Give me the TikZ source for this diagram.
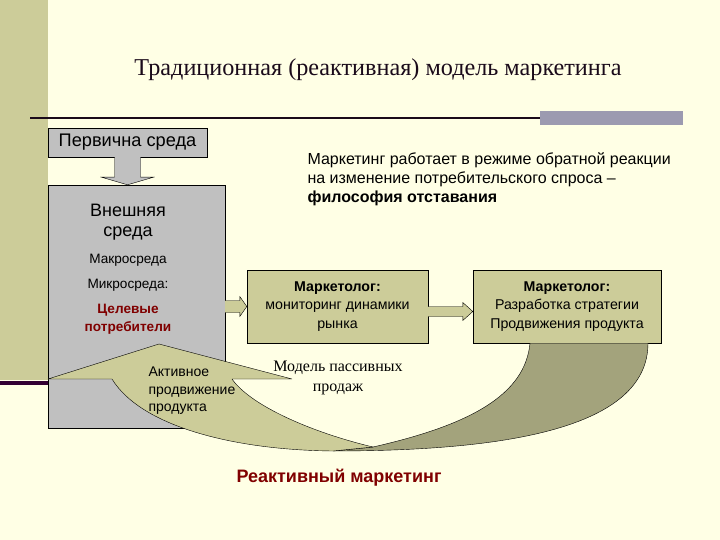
\documentclass[tikz,border=0pt]{standalone}
\usepackage{fontspec}
\setmainfont{Liberation Serif}
\setsansfont{Liberation Sans}
\usetikzlibrary{calc}
\usetikzlibrary{positioning}
\definecolor{slide yellow}{RGB}{255,255,229}
\definecolor{slide olive}{RGB}{204,204,153}
\definecolor{dark olive}{RGB}{163,163,124}
\definecolor{slide gray}{RGB}{192,192,192}
\definecolor{slide red}{RGB}{128,0,0}
\definecolor{slide bar}{RGB}{156,154,176}
\definecolor{slide plum}{RGB}{51,0,51}
\definecolor{title ink}{RGB}{26,10,26}

\begin{document}
\begin{tikzpicture}[x=1pt, y=-1pt,
		env box/.style={draw, fill=slide gray, inner sep=0pt},
		role box/.style={draw, fill=slide olive, minimum height=73pt, align=center, font=\sffamily\fontsize{14.2}{18.5}\selectfont},
		block arrow/.style={draw, fill=slide olive},
		env label/.style={align=center, font=\sffamily\fontsize{13.6}{18}\selectfont},
		band/.style={draw, line join=round},
	]
	\useasboundingbox (0,0) rectangle (720,540);
	\fill[slide yellow] (0,0) rectangle (720,540);
	\fill[slide olive] (0,0) rectangle (48,380);
	\draw[slide plum, line width=4pt] (0,383) -- (48,383);
	\draw[title ink, line width=2pt] (30,118) -- (540,118);
	\fill[slide bar] (540,111) rectangle (683,125);

	\node[title ink, font=\fontsize{24.2}{29}\selectfont] (title) at (378,70) {Традиционная (реактивная) модель маркетинга};

	\node[env box, minimum width=159pt, minimum height=29pt, font=\sffamily\fontsize{18.2}{21}\selectfont] (perv) at (127.5,142.5) {Первична среда};
	\node[env box, minimum width=177pt, minimum height=243pt] (ext) at (136.5,306.5) {};
	\draw[fill=slide gray] ($(perv.south)+(-13,0)$) -- ++(0,20) -- ++(-13,0) -- (perv.south |- ext.north) -- ($(perv.south)+(26,20)$) -- ++(-13,0) -- ($(perv.south)+(13,0)$);

	\node[env label, font=\sffamily\fontsize{18}{20}\selectfont] (extname) at (128,222) {Внешняя\\среда};
	\node[env label] (macro) at (128,260) {Макросреда};
	\node[env label] (micro) at (128,285) {Микросреда:};
	\node[env label, text=slide red, font=\sffamily\bfseries\fontsize{13.6}{18}\selectfont] (target) at (128,319) {Целевые\\потребители};

	\node[role box, minimum width=181pt] (mon) at (337.5,306.5) {\textbf{Маркетолог:}\\мониторинг динамики\\рынка};
	\node[role box, minimum width=188pt] (strat) at (567,306.5) {\textbf{Маркетолог:}\\Разработка стратегии\\Продвижения продукта};

	\draw[block arrow] ($(ext.east |- mon.west)+(0,-6)$) -- ($(mon.west)+(-7,-6)$) -- ++(0,-4) -- (mon.west) -- ($(mon.west)+(-7,10)$) -- ++(0,-4) -- ($(ext.east |- mon.west)+(0,6)$);
	\draw[block arrow] ($(mon.east)+(0,0)$) -- ($(strat.west)+(-10,0)$) -- ++(0,-4) -- ($(strat.west)+(0,5)$) -- ($(strat.west)+(-10,14)$) -- ++(0,-4) -- ($(mon.east)+(0,10)$);

	\node[anchor=west, align=left, font=\sffamily\fontsize{16}{19}\selectfont] (note) at (304,179) {Маркетинг работает в режиме обратной реакции\\на изменение потребительского спроса –\\\textbf{философия отставания}};

	\filldraw[band, fill=dark olive] ($(strat.south)+(-37,0)$) -- ($(strat.south)+(81,0)$) .. controls (648,430) and (500,451) .. (333,451) -- (373,447) .. controls (470,425) and (525,395) .. cycle;
	\filldraw[band, fill=slide olive] (48,379) -- (159,344) -- (292,379) -- (232,379) .. controls (250,405) and (310,432) .. (373,447) -- (333,451) .. controls (230,450) and (140,425) .. (112,379) -- cycle;

	\node[anchor=west, align=left, font=\sffamily\fontsize{14}{17.5}\selectfont] (active) at (145,391) {Активное\\продвижение\\продукта};
	\node[align=center, font=\fontsize{16}{20}\selectfont] (passive) at (338,378) {Модель пассивных\\продаж};
	\node[text=slide red, font=\sffamily\bfseries\fontsize{18}{21}\selectfont] (reactive) at (339,478) {Реактивный маркетинг};
\end{tikzpicture}
\end{document}
